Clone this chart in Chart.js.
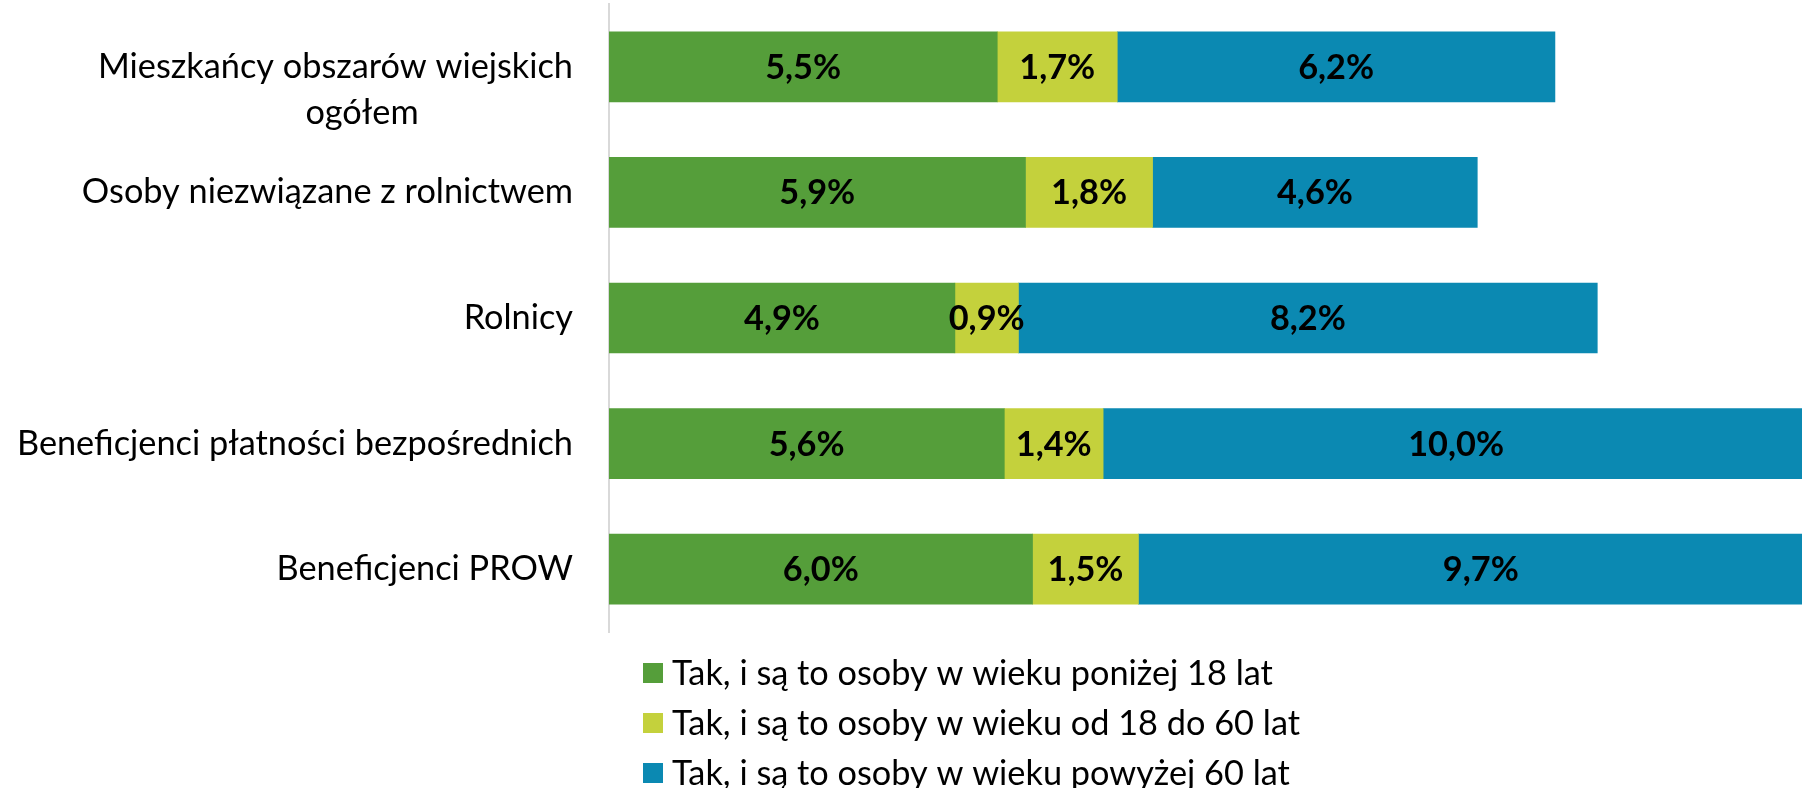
<!DOCTYPE html>
<html>
<head>
<meta charset="utf-8">
<script src="https://cdn.jsdelivr.net/npm/chart.js@4.4.1/dist/chart.umd.min.js"></script>
<style>
  html, body { margin: 0; padding: 0; background: #ffffff; overflow: hidden; }
  #wrap { width: 1802px; height: 788px; }
</style>
</head>
<body>
<div id="wrap"><canvas id="c" width="1802" height="788"></canvas></div>
<script>
// ---- data ----
const categories = [
  ['', 'Mieszkańcy obszarów wiejskich', 'ogółem\u2003\u2003\u2003\u2003\u2003\u2003'],
  'Osoby niezwiązane z rolnictwem',
  'Rolnicy',
  'Beneficjenci płatności bezpośrednich',
  'Beneficjenci PROW'
];
const seriesNames = [
  'Tak, i są to osoby w wieku poniżej 18 lat',
  'Tak, i są to osoby w wieku od 18 do 60 lat',
  'Tak, i są to osoby w wieku powyżej 60 lat'
];
const under18 = [5.5, 5.9, 4.9, 5.6, 6.0];
const age18to60 = [1.7, 1.8, 0.9, 1.4, 1.5];
const over60 = [6.2, 4.6, 8.2, 10.0, 9.7];
const colors = ['#559E3A', '#C4D13C', '#0B89B2'];

const FONT = 'Lato';
const FSIZE = 34.3;

const valueLabels = {
  id: 'valueLabels',
  afterDatasetsDraw(chart) {
    const ctx = chart.ctx;
    ctx.save();
    ctx.font = 'bold ' + FSIZE + 'px ' + FONT;
    ctx.fillStyle = '#000000';
    ctx.textAlign = 'center';
    ctx.textBaseline = 'middle';
    chart.data.datasets.forEach((ds, di) => {
      const meta = chart.getDatasetMeta(di);
      meta.data.forEach((el, i) => {
        const v = ds.data[i];
        const cx = (el.x + el.base) / 2;
        ctx.fillText(v.toFixed(1).replace('.', ',') + '%', cx, el.y + 1);
      });
    });
    ctx.restore();
  }
};

const customLegend = {
  id: 'customLegend',
  afterDraw(chart) {
    const ctx = chart.ctx;
    const area = chart.chartArea;
    ctx.save();
    ctx.font = FSIZE + 'px ' + FONT;
    ctx.textAlign = 'left';
    ctx.textBaseline = 'middle';
    chart.data.datasets.forEach((ds, di) => {
      const yc = area.bottom + 41 + di * 50;
      const xb = area.left + 34;
      ctx.fillStyle = ds.backgroundColor;
      ctx.fillRect(xb, yc - 10, 20, 20);
      ctx.fillStyle = '#000000';
      ctx.fillText(ds.label, xb + 29, yc + 1);
    });
    ctx.restore();
  }
};

new Chart(document.getElementById('c'), {
  type: 'bar',
  data: {
    labels: categories,
    datasets: [
      { label: seriesNames[0], data: under18, backgroundColor: colors[0] },
      { label: seriesNames[1], data: age18to60, backgroundColor: colors[1] },
      { label: seriesNames[2], data: over60, backgroundColor: colors[2] }
    ]
  },
  options: {
    indexAxis: 'y',
    responsive: false,
    animation: false,
    devicePixelRatio: 1,
    layout: { padding: { top: 4, bottom: 156, left: 0, right: 0 } },
    datasets: { bar: { barThickness: 70, borderWidth: 0 } },
    plugins: { legend: { display: false }, tooltip: { enabled: false } },
    scales: {
      x: { stacked: true, min: 0, max: 16.9, display: false },
      y: {
        stacked: true,
        grid: { display: false, drawTicks: false },
        border: { display: true, color: '#D9D9D9', width: 2 },
        ticks: {
          color: '#000000',
          font: { family: FONT, size: FSIZE, lineHeight: 1.34 },
          padding: 36,
          autoSkip: false
        },
        afterFit(scale) {
          scale.width = 609;
          scale.paddingTop = 0;
          scale.paddingBottom = 0;
        }
      }
    }
  },
  plugins: [valueLabels, customLegend]
});
</script>
</body>
</html>
